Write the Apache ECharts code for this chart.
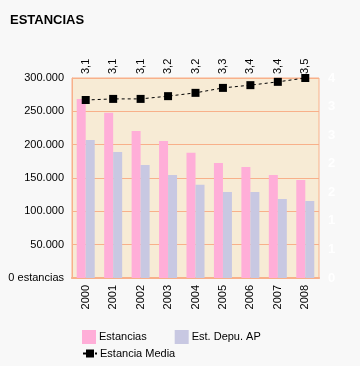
<!DOCTYPE html>
<html><head><meta charset="utf-8">
<style>html,body{margin:0;padding:0;background:#f8f8f8;}#c{width:360px;height:366px;}</style>
<script src="https://cdn.jsdelivr.net/npm/echarts@6/dist/echarts.min.js"></script>
</head><body><div id="c"></div>
<script>
var years = ['2000','2001','2002','2003','2004','2005','2006','2007','2008'];
var estancias = [268500, 248000, 220500, 205500, 188000, 172500, 166500, 154500, 147000];
var estDepu = [207000, 189000, 169500, 154500, 140000, 129000, 129000, 118500, 115500];
var estanciaMedia = [3.10, 3.12, 3.12, 3.17, 3.23, 3.32, 3.37, 3.43, 3.50];
var rightTickLabels = ['0','1','1','2','2','3','3','4'];

var FONT = 'Liberation Sans';
var chart = echarts.init(document.getElementById('c'), null, {renderer:'canvas'});
function fmtThousands(v){
  if (v === 0) return '0 estancias';
  var s = String(Math.round(v));
  return s.replace(/\B(?=(\d{3})+(?!\d))/g, '.') ;
}
chart.setOption({
  backgroundColor: '#f8f8f8',
  animation: false,
  textStyle: {fontFamily: FONT},
  title: {text: 'ESTANCIAS', left: 5, top: 9, textStyle: {fontSize: 13, fontWeight: 'bold', color: '#000', fontFamily: FONT}},
  grid: {left: 72, right: 41, top: 78, bottom: 88, show: true, backgroundColor: '#f7ebd5', borderColor: '#f8b08a', borderWidth: 1},
  legend: [
    {data: ['Estancias','Est. Depu. AP'], left: 77, top: 325, itemWidth: 14, itemHeight: 14, itemGap: 28,
     icon: 'rect', textStyle: {fontSize: 11, color: '#000', fontFamily: FONT, padding:[0,0,0,-2]}},
    {data: ['Estancia Media'], left: 77, top: 343, itemWidth: 14, itemHeight: 10,
     textStyle: {fontSize: 11, color: '#000', fontFamily: FONT, padding:[0,0,0,-2]}}
  ],
  xAxis: [
    {type: 'category', data: years, position: 'bottom',
     axisLine: {show: true, lineStyle: {color: '#f8b08a'}}, axisTick: {show: false},
     axisLabel: {rotate: 90, fontSize: 11, color: '#000', margin: 7, fontFamily: FONT}},
    {type: 'category', data: years, position: 'top',
     axisLine: {show: true, lineStyle: {color: '#f8b08a', width: 2}}, axisTick: {show: false},
     axisLabel: {rotate: 90, fontSize: 11, color: '#000', margin: 4, fontFamily: FONT,
       formatter: function(v, i){ return estanciaMedia[i].toFixed(1).replace('.', ','); }}}
  ],
  yAxis: [
    {type: 'value', min: 0, max: 300000, interval: 50000,
     axisLine: {show: true, lineStyle: {color: '#f8b08a'}}, axisTick: {show: false},
     splitLine: {show: true, lineStyle: {color: '#f8b08a', width: 1}},
     axisLabel: {fontSize: 11, color: '#000', margin: 8, fontFamily: FONT, formatter: fmtThousands}},
    {type: 'value', min: 0, max: 4, interval: 4/7, position: 'right',
     axisLine: {show: false}, axisTick: {show: false}, splitLine: {show: false},
     axisLabel: {fontSize: 13, fontWeight: 'bold', color: '#ffffff', margin: 9, fontFamily: FONT,
       formatter: function(v){ return rightTickLabels[Math.round(v * 7 / 4)]; }}},
    {type: 'value', min: -0.136, max: 3.5, show: false}
  ],
  series: [
    {name: 'Estancias', type: 'bar', data: estancias, xAxisIndex: 0, yAxisIndex: 0,
     barWidth: 9, barGap: '0%', itemStyle: {color: '#ffaed8'}},
    {name: 'Est. Depu. AP', type: 'bar', data: estDepu, xAxisIndex: 0, yAxisIndex: 0,
     barWidth: 9, barGap: '0%', itemStyle: {color: '#c8c8e2'}},
    {name: 'Estancia Media', type: 'line', data: estanciaMedia, xAxisIndex: 0, yAxisIndex: 2,
     symbol: 'rect', symbolSize: 8, itemStyle: {color: '#000'},
     lineStyle: {color: '#000', width: 1, type: [3, 3]}}
  ]
});
</script></body></html>
